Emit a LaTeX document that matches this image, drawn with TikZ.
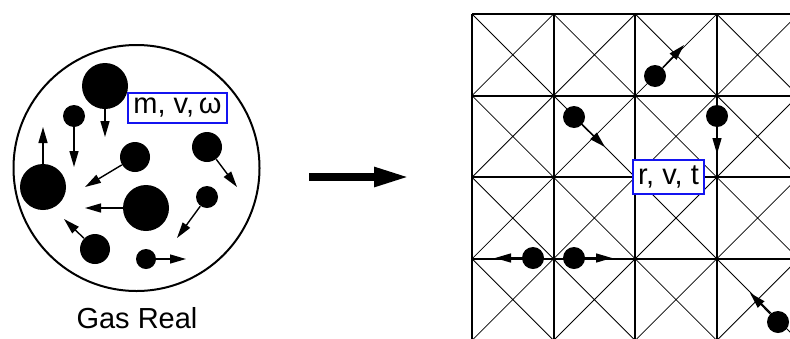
\documentclass[tikz,border=0pt]{standalone}
\usepackage{fontspec}
\setmainfont{Liberation Sans}
\usetikzlibrary{arrows.meta}
\definecolor{boxblue}{RGB}{20,20,240}

\begin{document}
\begin{tikzpicture}[x=0.5pt,y=-0.5pt,
  font=\fontsize{14.5}{17}\selectfont,
  particle/.style={circle,fill=black,inner sep=0pt,minimum size=#1},
  vel/.style={-{Triangle[length=8pt,width=4.5pt]},line width=0.7pt},
  tagbox/.style={draw=boxblue,line width=1pt,fill=white,inner sep=2.8pt},
  gridline/.style={line width=1pt},
  diag/.style={line width=0.4pt}]
\useasboundingbox (0,0) rectangle (790,338);
% real gas
\node[draw,circle,line width=1pt,inner sep=0pt,minimum size=123pt] (gas) at (136.5,168) {};
\node[anchor=base] (gasname) at (137,328) {Gas Real};
\node[particle=23pt] (p1) at (105,86) {};
\node[particle=11pt] (p2) at (74,116) {};
\node[particle=23pt] (p3) at (43,187) {};
\node[particle=15pt] (p4) at (135,157) {};
\node[particle=15pt] (p5) at (207,147) {};
\node[particle=23pt] (p6) at (146,208) {};
\node[particle=11pt] (p7) at (207,197) {};
\node[particle=15pt] (p8) at (95,249) {};
\node[particle=10pt] (p9) at (146,259) {};
\coordinate (a1) at (105,137);
\coordinate (a2) at (74,167);
\coordinate (a3) at (43,127);
\coordinate (a4) at (85,187);
\coordinate (a5) at (237,187);
\coordinate (a6) at (85,208);
\coordinate (a7) at (177,238);
\coordinate (a8) at (64,219);
\coordinate (a9) at (186,259);
\draw[vel] (p1) -- (a1);
\draw[vel] (p2) -- (a2);
\draw[vel] (p3) -- (a3);
\draw[vel] (p4) -- (a4);
\draw[vel] (p5) -- (a5);
\draw[vel] (p6) -- (a6);
\draw[vel] (p7) -- (a7);
\draw[vel] (p8) -- (a8);
\draw[vel] (p9) -- (a9);
\node[tagbox] (gastag) at (177.5,108) {m, v,\,ω};
% arrow between
\coordinate (from) at (309,177);
\coordinate (to) at (410,177);
\draw[line width=4pt,-{Triangle[length=18pt,width=9pt]}] (from) -- (to);
% lattice
\begin{scope}
\clip (470,12) rectangle (790,338);
\foreach \k in {0,...,4} {
  \draw[gridline] (472+81.6*\k,14) -- (472+81.6*\k,340);
  \draw[gridline] (472,14+81.6*\k) -- (800,14+81.6*\k);
}
\foreach \i in {0,...,3}
  \foreach \j in {0,...,3}
    \draw[diag] (472+81.6*\i,14+81.6*\j) -- ++(81.6,81.6)
                (553.6+81.6*\i,14+81.6*\j) -- ++(-81.6,81.6);
\end{scope}
\node[particle=11pt] (q1) at (655,76) {};
\node[particle=11pt] (q2) at (574,117) {};
\node[particle=11pt] (q3) at (717,116) {};
\node[particle=11pt] (q4) at (533,258) {};
\node[particle=11pt] (q5) at (574,258) {};
\node[particle=11pt] (q6) at (778,322) {};
\coordinate (b1) at (684,45);
\coordinate (b2) at (605,147);
\coordinate (b3) at (717,154);
\coordinate (b4) at (495,258);
\coordinate (b5) at (612,258);
\coordinate (b6) at (750,293);
\draw[vel] (q1) -- (b1);
\draw[vel] (q2) -- (b2);
\draw[vel] (q3) -- (b3);
\draw[vel] (q4) -- (b4);
\draw[vel] (q5) -- (b5);
\draw[vel] (q6) -- (b6);
\node[tagbox] (gridtag) at (668.5,177) {r, v, t};
\end{tikzpicture}
\end{document}
